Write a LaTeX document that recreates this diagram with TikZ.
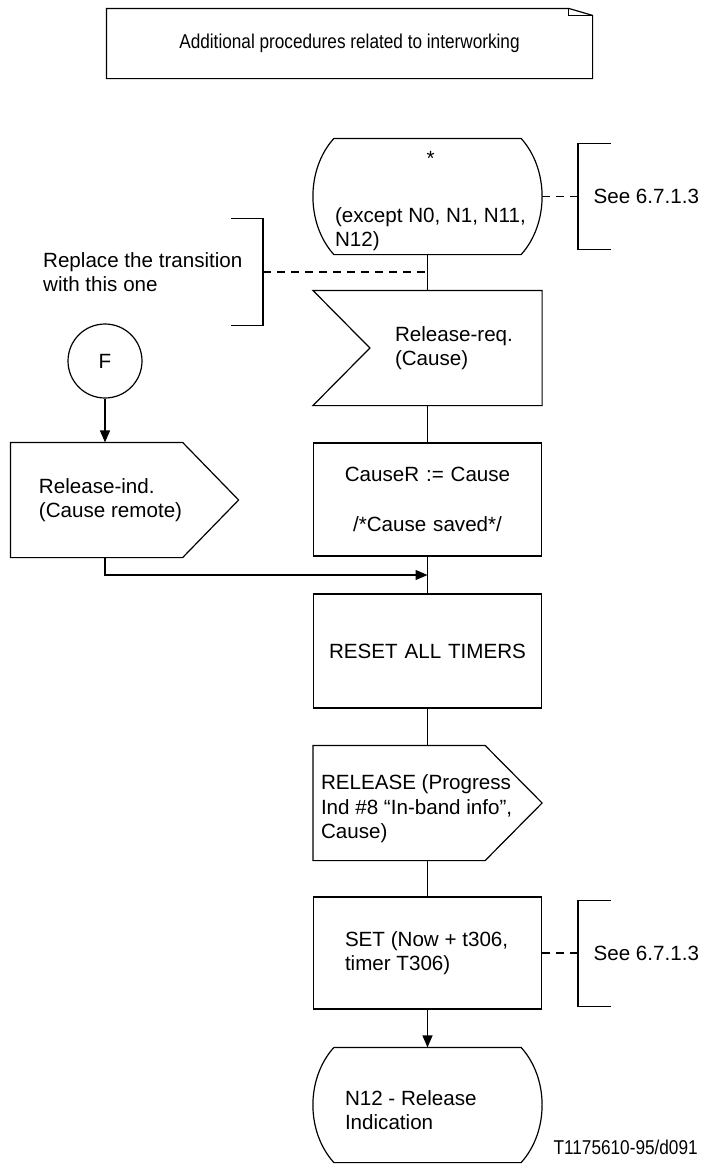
\documentclass[tikz,border=0pt]{standalone}
\usepackage{fontspec}
\setmainfont{Liberation Sans}
\newfontfamily\narrowfont[FakeStretch=0.86]{Liberation Sans}
\usetikzlibrary{arrows.meta,calc}

\begin{document}
\begin{tikzpicture}[x=1pt, y=-1pt, line width=1.2pt,
  sdl/.style={font=\fontsize{20.6}{24.5}\selectfont, inner sep=0pt, minimum width=228pt, text width=228pt, minimum height=114pt, align=flush left},
  note/.style={font=\fontsize{20.6}{24.5}\selectfont, inner sep=0pt, minimum height=105pt, align=flush left},
  dashline/.style={dash pattern=on 8pt off 6pt},
  flow/.style={-{Triangle[length=12pt,width=10pt]}}]
\useasboundingbox (0,0) rectangle (710,1165);
% title with folded corner
\node[font=\narrowfont\fontsize{20}{24}\selectfont, minimum width=485pt, minimum height=69pt, inner sep=0pt] (title) at (349.5,43.5) {Additional procedures related to interworking};
\draw (title.south west) -- (title.north west) -- ([xshift=-24pt]title.north east) -- ([yshift=-7pt]title.north east) -- (title.south east) -- cycle;
\draw ([xshift=-24pt]title.north east) -- ([xshift=-24pt,yshift=-7pt]title.north east) -- ([yshift=-7pt]title.north east);
% start state
\node[sdl, minimum height=115pt] (state) at (427.5,196.5) {\hspace*{113pt}*\rule{0pt}{24pt}\\[32pt]\hspace*{21.5pt}(except N0, N1, N11,\\\hspace*{21.5pt}N12)};
\draw ([xshift=21pt]state.north west) -- ([xshift=-21pt]state.north east)
  .. controls +(28pt,-31pt) and +(28pt,31pt) .. ([xshift=-21pt]state.south east)
  -- ([xshift=21pt]state.south west)
  .. controls +(-28pt,31pt) and +(-28pt,-31pt) .. ([xshift=21pt]state.north west);
\node[note, anchor=west, inner xsep=15pt] (see1) at (578,196.5) {See 6.7.1.3};
\draw ([xshift=33pt]see1.north west) -- (see1.north west) -- (see1.south west) -- ([xshift=33pt]see1.south west);
\draw[dashline] (state.east) -- (see1.west);
% comment on the transition
\node[note, anchor=east, inner xsep=20pt, minimum height=106pt] (repl) at (263,272) {Replace the transition\\with this one};
\draw ([xshift=-32pt]repl.north east) -- (repl.north east) -- (repl.south east) -- ([xshift=-32pt]repl.south east);
% input
\node[sdl] (relreq) at (427.5,348) {\hspace*{81.5pt}Release-req.\\\hspace*{81.5pt}(Cause)};
\draw (relreq.north west) -- (relreq.north east) -- (relreq.south east) -- (relreq.south west) -- ([xshift=57pt]relreq.west) -- cycle;
\draw (state.south) -- (relreq.north);
\coordinate (tap) at (state.south |- repl.east);
\draw[dashline] (repl.east) -- (tap);
% task
\node[sdl, draw, minimum height=113pt, align=center] (saved) at (427.5,499.5) {CauseR := Cause\\[25.5pt]/*Cause saved*/};
\draw (relreq.south) -- (saved.north);
% connector and output
\node[draw, circle, minimum size=74pt, inner sep=0pt, font=\fontsize{20.6}{24}\selectfont] (F) at (105,361) {F};
\node[sdl, minimum width=227pt, text width=227pt] (relind) at (124.5,500) {\hspace*{28pt}Release-ind.\\\hspace*{28pt}(Cause remote)};
\draw (relind.north west) -- ([xshift=-56pt]relind.north east) -- (relind.east) -- ([xshift=-56pt]relind.south east) -- (relind.south west) -- cycle;
\draw[flow] (F.south) -- (F.south |- relind.north);
% reset
\node[sdl, draw, align=center] (reset) at (427.5,651) {RESET ALL TIMERS};
\coordinate (merge) at ($(saved.south)!0.5!(reset.north)$);
\draw (saved.south) -- (reset.north);
\draw[flow] (relind.south -| F) |- (merge);
% output
\node[sdl] (release) at (427.5,803) {\hspace*{7.5pt}RELEASE (Progress\rule{0pt}{27pt}\\\hspace*{7.5pt}Ind \#8 “In-band info”,\\\hspace*{7.5pt}Cause)};
\draw (release.north west) -- ([xshift=-57pt]release.north east) -- (release.east) -- ([xshift=-57pt]release.south east) -- (release.south west) -- cycle;
\draw (reset.south) -- (release.north);
% timer
\node[sdl, draw, minimum height=112pt] (settmr) at (427.5,953) {\hspace*{31.5pt}SET (Now + t306,\\\hspace*{31.5pt}timer T306)};
\draw (release.south) -- (settmr.north);
\node[note, anchor=west, inner xsep=15pt] (see2) at (578,953.5) {See 6.7.1.3};
\draw ([xshift=33pt]see2.north west) -- (see2.north west) -- (see2.south west) -- ([xshift=33pt]see2.south west);
\draw[dashline] (settmr.east) -- (settmr.east -| see2.west);
% next state
\node[sdl] (n12) at (427.5,1105) {\hspace*{31.5pt}N12 - Release\rule{0pt}{25pt}\\\hspace*{31.5pt}Indication};
\draw ([xshift=21pt]n12.north west) -- ([xshift=-21pt]n12.north east)
  .. controls +(28pt,-31pt) and +(28pt,31pt) .. ([xshift=-21pt]n12.south east)
  -- ([xshift=21pt]n12.south west)
  .. controls +(-28pt,31pt) and +(-28pt,-31pt) .. ([xshift=21pt]n12.north west);
\draw[flow] (settmr.south) -- (n12.north);
\node[font=\narrowfont\fontsize{20}{24}\selectfont, anchor=west, inner sep=0pt] (fig) at (553,1147) {T1175610-95/d091};
\end{tikzpicture}
\end{document}
